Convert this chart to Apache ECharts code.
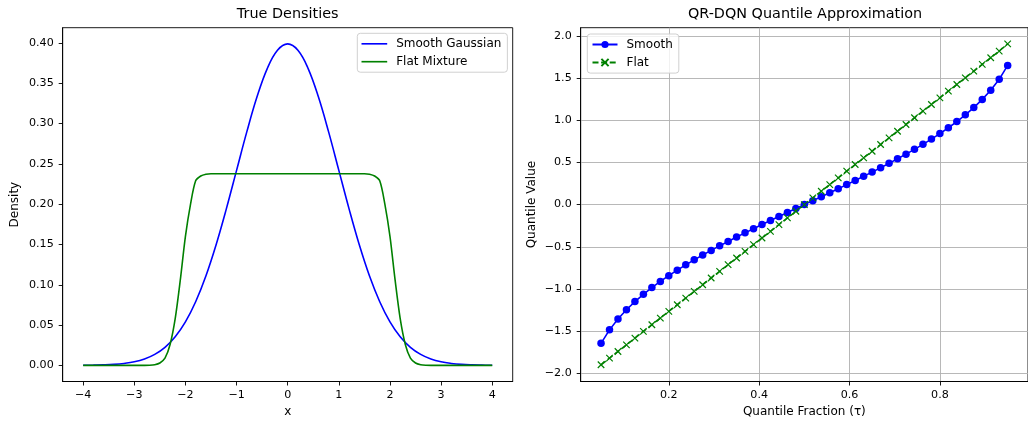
<!DOCTYPE html>
<html lang="en">
<head>
<meta charset="UTF-8">
<title>Densities and quantiles</title>
<script src="https://cdn.jsdelivr.net/npm/echarts@6/dist/echarts.min.js"></script>
<style>
  html, body { margin: 0; padding: 0; background: #fff; }
</style>
</head>
<body>
<div id="main" style="width:1028px;height:423px;"></div>

<script type="text/javascript">
  // left panel: true densities
  var gaussX = [-4.0, -3.8, -3.6, -3.4, -3.2, -3.0, -2.8, -2.6, -2.4, -2.2, -2.0, -1.8, -1.6, -1.4, -1.2, -1.0,
                -0.8, -0.6, -0.4, -0.2, 0.0, 0.2, 0.4, 0.6, 0.8, 1.0, 1.2, 1.4, 1.6, 1.8, 2.0, 2.2, 2.4,
                2.6, 2.8, 3.0, 3.2, 3.4, 3.6, 3.8, 4.0];
  var gaussY = [0.0001, 0.0003, 0.0006, 0.0012, 0.0024, 0.0044, 0.0079, 0.0136, 0.0224, 0.0355, 0.0540,
                0.0790, 0.1109, 0.1497, 0.1942, 0.2420, 0.2897, 0.3332, 0.3683, 0.3910, 0.3989, 0.3910,
                0.3683, 0.3332, 0.2897, 0.2420, 0.1942, 0.1497, 0.1109, 0.0790, 0.0540, 0.0355, 0.0224,
                0.0136, 0.0079, 0.0044, 0.0024, 0.0012, 0.0006, 0.0003, 0.0001];

  var flatX = [-4.0, -3.0, -2.8, -2.7, -2.6, -2.5, -2.4, -2.3, -2.2, -2.1, -2.0, -1.9, -1.8, -1.7, -1.6, -1.5,
               -1.0, 0.0, 1.0, 1.5, 1.6, 1.7, 1.8, 1.9, 2.0, 2.1, 2.2, 2.3, 2.4, 2.5, 2.6, 2.7, 2.8, 3.0, 4.0];
  var flatY = [0, 0, 0, 0.0001, 0.0008, 0.0030, 0.0090, 0.0260, 0.0580, 0.1060, 0.1600, 0.2000, 0.2290,
               0.2350, 0.2372, 0.2378, 0.2378, 0.2378, 0.2378, 0.2378, 0.2372, 0.2350, 0.2290, 0.2000,
               0.1600, 0.1060, 0.0580, 0.0260, 0.0090, 0.0030, 0.0008, 0.0001, 0, 0, 0];

  var densXTicks = [-4, -3, -2, -1, 0, 1, 2, 3, 4];
  var densYTicks = [0, 0.05, 0.10, 0.15, 0.20, 0.25, 0.30, 0.35, 0.40];

  // right panel: quantile approximation
  var tau = [0.05, 0.06875, 0.0875, 0.10625, 0.125, 0.14375, 0.1625, 0.18125, 0.2, 0.21875, 0.2375,
             0.25625, 0.275, 0.29375, 0.3125, 0.33125, 0.35, 0.36875, 0.3875, 0.40625, 0.425, 0.44375,
             0.4625, 0.48125, 0.5, 0.51875, 0.5375, 0.55625, 0.575, 0.59375, 0.6125, 0.63125, 0.65,
             0.66875, 0.6875, 0.70625, 0.725, 0.74375, 0.7625, 0.78125, 0.8, 0.81875, 0.8375, 0.85625,
             0.875, 0.89375, 0.9125, 0.93125, 0.95];
  var smoothQ = [-1.645, -1.485, -1.356, -1.247, -1.150, -1.064, -0.984, -0.911, -0.842, -0.777, -0.714,
                 -0.655, -0.598, -0.543, -0.489, -0.437, -0.385, -0.335, -0.286, -0.237, -0.189, -0.141,
                 -0.094, -0.047, 0.000, 0.047, 0.094, 0.141, 0.189, 0.237, 0.286, 0.335, 0.385, 0.437,
                 0.489, 0.543, 0.598, 0.655, 0.714, 0.777, 0.842, 0.911, 0.984, 1.064, 1.150, 1.247,
                 1.356, 1.485, 1.650];
  var flatQ = [-1.899, -1.820, -1.741, -1.662, -1.583, -1.503, -1.424, -1.345, -1.266, -1.187, -1.108,
               -1.029, -0.950, -0.870, -0.791, -0.712, -0.633, -0.554, -0.475, -0.396, -0.317, -0.237,
               -0.158, -0.079, 0.000, 0.079, 0.158, 0.237, 0.317, 0.396, 0.475, 0.554, 0.633, 0.712,
               0.791, 0.870, 0.950, 1.029, 1.108, 1.187, 1.266, 1.345, 1.424, 1.503, 1.583, 1.662,
               1.741, 1.820, 1.905];

  var tauTicks = [0.2, 0.4, 0.6, 0.8];
  var quantTicks = [-2.0, -1.5, -1.0, -0.5, 0.0, 0.5, 1.0, 1.5, 2.0];

  function zip(xs, ys) {
    return xs.map(function (x, i) { return [x, ys[i]]; });
  }
  function fmt(d) {
    return function (v) {
      var s = Math.abs(v).toFixed(d);
      return (v < 0 ? '\u2212' : '') + s;
    };
  }

  var FONT = 'DejaVu Sans';

  function axisCommon(ticks, d, margin) {
    return {
      axisLine: { show: true, onZero: false, lineStyle: { color: '#000', width: 0.9 } },
      axisTick: { show: true, length: 4, customValues: ticks, lineStyle: { color: '#000', width: 0.9 } },
      axisLabel: { customValues: ticks, margin: margin, formatter: fmt(d),
                   fontFamily: FONT, fontSize: 11.1, color: '#000' },
      nameTextStyle: { fontFamily: FONT, fontSize: 12, color: '#000' },
      nameLocation: 'middle'
    };
  }

  function legendBox(names, icons, left, top, width, iconH, gap) {
    return {
      data: names.map(function (n, i) { return icons[i] ? { name: n, icon: icons[i] } : { name: n }; }),
      orient: 'vertical', left: left, top: top,
      itemWidth: width, itemHeight: iconH, itemGap: gap, padding: [4.5, 6, 4.5, 4.2],
      backgroundColor: 'rgba(255,255,255,0.8)', borderColor: '#d0d0d0', borderWidth: 1, borderRadius: 3,
      textStyle: { fontFamily: FONT, fontSize: 12, color: '#000', padding: [0, 0, 0, 4] }
    };
  }

  var lineIcon = 'path://M0,0L25,0L25,1.6L0,1.6Z';
  var xMarker = 'path://M0,0L10,10M10,0L0,10';

  var myChart = echarts.init(document.getElementById('main'));

  myChart.setOption({
    animation: false,
    backgroundColor: '#fff',
    title: [
      { text: 'True Densities', left: 287.7, top: 7.5, textAlign: 'center', padding: 0,
        textStyle: { fontFamily: FONT, fontSize: 14.4, fontWeight: 'normal', color: '#000' } },
      { text: 'QR-DQN Quantile Approximation', left: 805, top: 7.5, textAlign: 'center', padding: 0,
        textStyle: { fontFamily: FONT, fontSize: 14.4, fontWeight: 'normal', color: '#000' } }
    ],
    legend: [
      legendBox(['Smooth Gaussian', 'Flat Mixture'], [lineIcon, lineIcon], 357.3, 33.3, 25.7, 12, 5.9),
      legendBox(['Smooth', 'Flat'], [null, null], 587.3, 34, 25, 9, 5.9)
    ],
    grid: [
      { left: 62.7, top: 27.7, width: 450, height: 355, show: true,
        borderColor: '#000', borderWidth: 0.9, backgroundColor: 'transparent' },
      { left: 580.7, top: 27.7, width: 448.8, height: 355, show: true,
        borderColor: '#000', borderWidth: 0.9, backgroundColor: 'transparent' }
    ],
    xAxis: [
      Object.assign(axisCommon(densXTicks, 0, 8), {
        type: 'value', gridIndex: 0, min: -4.4, max: 4.4, name: 'x', nameGap: 24.5,
        splitLine: { show: false }
      }),
      Object.assign(axisCommon(tauTicks, 1, 8), {
        type: 'value', gridIndex: 1, min: 0.005, max: 0.995, name: 'Quantile Fraction (\u03c4)', nameGap: 24.5,
        splitLine: { show: true, lineStyle: { color: '#b0b0b0', width: 0.9 } }
      })
    ],
    yAxis: [
      Object.assign(axisCommon(densYTicks, 2, 9), {
        type: 'value', gridIndex: 0, min: -0.02, max: 0.419, name: 'Density', nameGap: 41.7,
        splitLine: { show: false }
      }),
      Object.assign(axisCommon(quantTicks, 1, 9), {
        type: 'value', gridIndex: 1, min: -2.097, max: 2.097, name: 'Quantile Value', nameGap: 43,
        splitLine: { show: true, lineStyle: { color: '#b0b0b0', width: 0.9 } }
      })
    ],
    series: [
      { name: 'Smooth Gaussian', type: 'line', xAxisIndex: 0, yAxisIndex: 0,
        data: zip(gaussX, gaussY), smooth: 0.4, symbol: 'none',
        lineStyle: { color: '#0000ff', width: 1.6 }, itemStyle: { color: '#0000ff' } },
      { name: 'Flat Mixture', type: 'line', xAxisIndex: 0, yAxisIndex: 0,
        data: zip(flatX, flatY), smooth: 0.3, symbol: 'none',
        lineStyle: { color: '#008000', width: 1.6 }, itemStyle: { color: '#008000' } },
      { name: 'Smooth', type: 'line', xAxisIndex: 1, yAxisIndex: 1,
        data: zip(tau, smoothQ), symbol: 'circle', symbolSize: 7.5, showAllSymbol: true,
        lineStyle: { color: '#0000ff', width: 1.6 }, itemStyle: { color: '#0000ff' } },
      { name: 'Flat', type: 'line', xAxisIndex: 1, yAxisIndex: 1,
        data: zip(tau, flatQ), symbol: xMarker, symbolSize: 6.5, showAllSymbol: true,
        lineStyle: { color: '#008000', width: 1.6, type: [6, 2.6] },
        itemStyle: { color: 'none', borderColor: '#008000', borderWidth: 1.2 } }
    ]
  });
</script>
</body>
</html>
